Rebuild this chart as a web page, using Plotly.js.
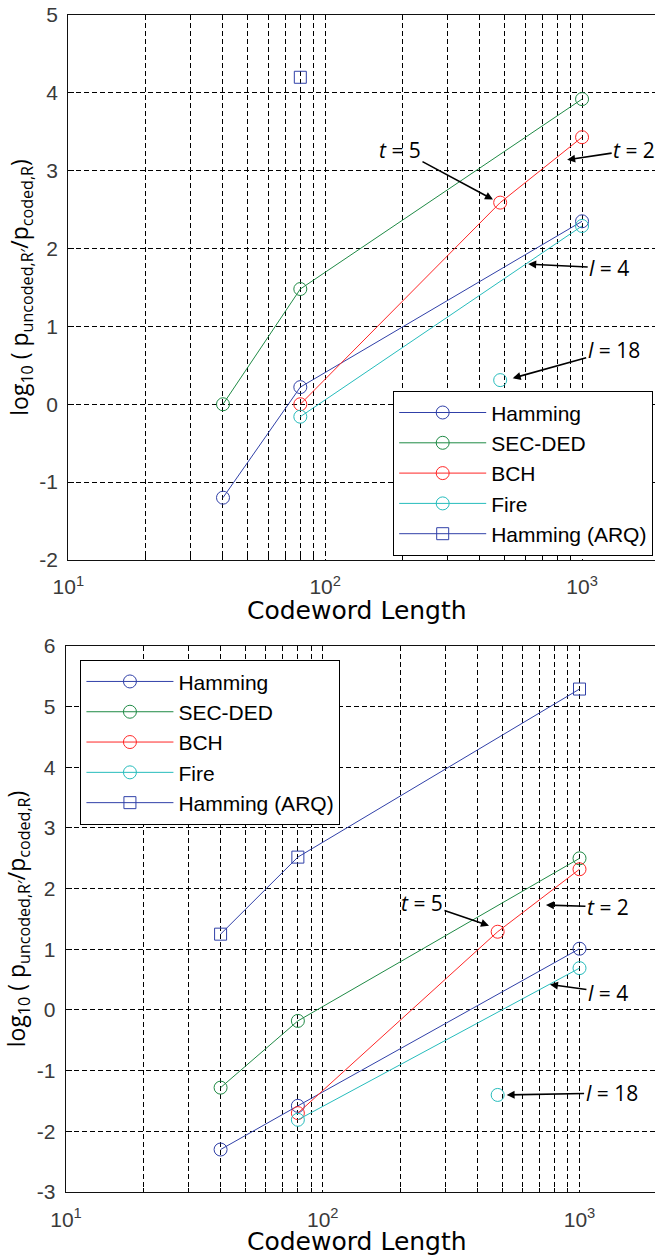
<!DOCTYPE html>
<html>
<head>
<meta charset="utf-8">
<script src="https://cdn.plot.ly/plotly-3.0.1.min.js"></script>
<style>html,body{margin:0;padding:0;background:#fff;}</style>
</head>
<body>
<div id="chart" style="width:655px;height:1255px;"></div>
<script>
// ---------- data ----------
const codeLen = [40, 80, 1000];
const bchLen = [80, 480, 1000];
const fireLen = [80, 1000];
const fireBurstLen = [480];

// top panel
const hammingTop = [-1.2, 0.22, 2.35];
const secdedTop = [0, 1.48, 3.92];
const bchTop = [0, 2.59, 3.43];
const fireTop = [-0.16, 2.29];
const fireBurstTop = [0.31];
const arqTopLen = [80];
const arqTop = [4.2];

// bottom panel
const hammingBot = [-2.3, -1.58, 1.01];
const secdedBot = [-1.28, -0.18, 2.5];
const bchBot = [-1.7, 1.29, 2.32];
const fireBot = [-1.81, 0.69];
const fireBurstBot = [-1.4];
const arqBotLen = [40, 80, 1000];
const arqBot = [1.25, 2.52, 5.29];

const seriesNames = ['Hamming', 'SEC-DED', 'BCH', 'Fire', 'Hamming (ARQ)'];
const xTitle = 'Codeword Length';
const yTitle = 'log<sub>10</sub> ( p<sub>uncoded,R\u2032</sub>/p<sub>coded,R</sub>)';
const xTickVals = [10, 100, 1000];
const xTickText = ['10<sup>1</sup>', '10<sup>2</sup>', '10<sup>3</sup>'];
const xMinorVals = [20, 30, 40, 50, 60, 70, 80, 90, 200, 300, 400, 500, 600, 700, 800, 900, 2000];
const yTopTicks = [-2, -1, 0, 1, 2, 3, 4, 5];
const yBotTicks = [-3, -2, -1, 0, 1, 2, 3, 4, 5, 6];

// annotations: [label, headX(codeword length), headY, ax, ay, panel]
const notes = [
  ['<i>t</i> = 5', 450, 2.63, -93, -50, 1],
  ['<i>t</i> = 2', 875, 3.14, 67, -10, 1],
  ['<i>l</i> = 4', 617, 1.80, 81, 4, 1],
  ['<i>l</i> = 18', 537, 0.335, 101, -28, 1],
  ['<i>t</i> = 5', 444, 1.39, -67, -23, 2],
  ['<i>t</i> = 2', 740, 1.73, 62, 2, 2],
  ['<i>l</i> = 4', 767, 0.42, 58, 8, 2],
  ['<i>l</i> = 18', 520, -1.40, 105, -2, 2]
];

// ---------- style ----------
const colors = {
  ham: '#3040a8',
  sec: '#1f8a45',
  bch: '#ff2626',
  fire: '#26bcbc'
};

function tr(x, y, name, color, symbol, panel, showleg, mode) {
  return {
    x: x, y: y, name: name,
    type: 'scatter',
    mode: mode || 'lines+markers',
    xaxis: panel === 1 ? 'x' : 'x2',
    yaxis: panel === 1 ? 'y' : 'y2',
    legend: panel === 1 ? 'legend' : 'legend2',
    showlegend: showleg,
    line: {color: color, width: 1},
    marker: {symbol: symbol, size: symbol === 'square-open' ? 12 : 13, color: color, line: {color: color, width: 1}},
    cliponaxis: false
  };
}

const traces = [
  tr(codeLen, hammingTop, seriesNames[0], colors.ham, 'circle-open', 1, true),
  tr(codeLen, secdedTop, seriesNames[1], colors.sec, 'circle-open', 1, true),
  tr(bchLen, bchTop, seriesNames[2], colors.bch, 'circle-open', 1, true),
  tr(fireLen, fireTop, seriesNames[3], colors.fire, 'circle-open', 1, true),
  tr(arqTopLen, arqTop, seriesNames[4], colors.ham, 'square-open', 1, true),
  tr(fireBurstLen, fireBurstTop, seriesNames[3], colors.fire, 'circle-open', 1, false, 'markers'),

  tr(codeLen, hammingBot, seriesNames[0], colors.ham, 'circle-open', 2, true),
  tr(codeLen, secdedBot, seriesNames[1], colors.sec, 'circle-open', 2, true),
  tr(bchLen, bchBot, seriesNames[2], colors.bch, 'circle-open', 2, true),
  tr(fireLen, fireBot, seriesNames[3], colors.fire, 'circle-open', 2, true),
  tr(arqBotLen, arqBot, seriesNames[4], colors.ham, 'square-open', 2, true),
  tr(fireBurstLen, fireBurstBot, seriesNames[3], colors.fire, 'circle-open', 2, false, 'markers')
];

const gridDash = '5px,3px';
function xAxis(domain, range, anchor) {
  return {
    type: 'log', domain: domain, range: range, anchor: anchor,
    tickmode: 'array', tickvals: xTickVals, ticktext: xTickText,
    // major ticks coincide with grid lines; an invisible outside tick sets the label gap
    ticks: 'outside', ticklen: 8, tickcolor: 'rgba(0,0,0,0)',
    showline: true, linecolor: '#111', linewidth: 1.3, mirror: true,
    showgrid: true, gridcolor: '#000', gridwidth: 1, griddash: gridDash,
    zeroline: false,
    tickfont: {family: 'Liberation Sans, Arial, sans-serif', size: 21, color: '#3a3a3a'},
    minor: {tickmode: 'array', tickvals: xMinorVals, ticks: 'inside', ticklen: 4, tickcolor: '#000',
            showgrid: true, gridcolor: '#000', gridwidth: 1, griddash: gridDash}
  };
}
function yAxis(domain, range, ticks, anchor) {
  return {
    domain: domain, range: range, anchor: anchor,
    tickmode: 'array', tickvals: ticks, ticktext: ticks.map(String),
    ticks: 'inside', ticklen: 6, tickcolor: '#000',
    showline: true, linecolor: '#111', linewidth: 1.3, mirror: false,
    showgrid: true, gridcolor: '#000', gridwidth: 1, griddash: gridDash,
    zeroline: false,
    ticklabelstandoff: 5,
    tickfont: {family: 'Liberation Sans, Arial, sans-serif', size: 21, color: '#3a3a3a'},
    title: {text: yTitle, font: {family: 'Open Sans, sans-serif', size: 23, color: '#000'}, standoff: 4}
  };
}

const annotations = notes.map(n => ({
  text: n[0],
  x: Math.log10(n[1]), y: n[2],
  xref: n[5] === 1 ? 'x' : 'x2', yref: n[5] === 1 ? 'y' : 'y2',
  ax: n[3], ay: n[4],
  showarrow: true, arrowhead: 2, arrowsize: 1, arrowwidth: 1.6, arrowcolor: '#000',
  font: {family: 'Open Sans, sans-serif', size: 21, color: '#000'},
  bgcolor: 'rgba(0,0,0,0)'
}));

// x-axis titles (placed as text under each panel)
[['y domain', -51], ['y2 domain', -49]].forEach(function (p) {
  annotations.push({
    text: xTitle, xref: 'paper', x: 0.494, yref: p[0], y: 0,
    xanchor: 'center', yanchor: 'middle', yshift: p[1], showarrow: false,
    borderpad: 0,
    font: {family: 'DejaVu Sans, Verdana, sans-serif', size: 25, color: '#000'}
  });
});

const legendStyle = {
  bgcolor: '#fff', bordercolor: '#000', borderwidth: 1.3,
  font: {family: 'Liberation Sans, Arial, sans-serif', size: 21, color: '#000'},
  xanchor: 'left', yanchor: 'top', tracegroupgap: 0, itemwidth: 87
};

const layout = {
  width: 655, height: 1255,
  margin: {l: 66, r: 0, t: 15, b: 63},
  paper_bgcolor: '#fff', plot_bgcolor: '#fff',
  showlegend: true,
  xaxis: xAxis([0.004, 1], [1, 3.284], 'y'),
  yaxis: yAxis([0.537, 1], [-2, 5], yTopTicks, 'x'),
  xaxis2: xAxis([0, 1], [1, 3.294], 'y2'),
  yaxis2: yAxis([0, 0.4639], [-3, 6], yBotTicks, 'x2'),
  legend: Object.assign({x: 0.555, y: 0.6805}, legendStyle),
  legend2: Object.assign({x: 0.024, y: 0.452}, legendStyle),
  annotations: annotations
};

Plotly.newPlot('chart', traces, layout, {displayModeBar: false, staticPlot: true});
</script>
</body>
</html>
